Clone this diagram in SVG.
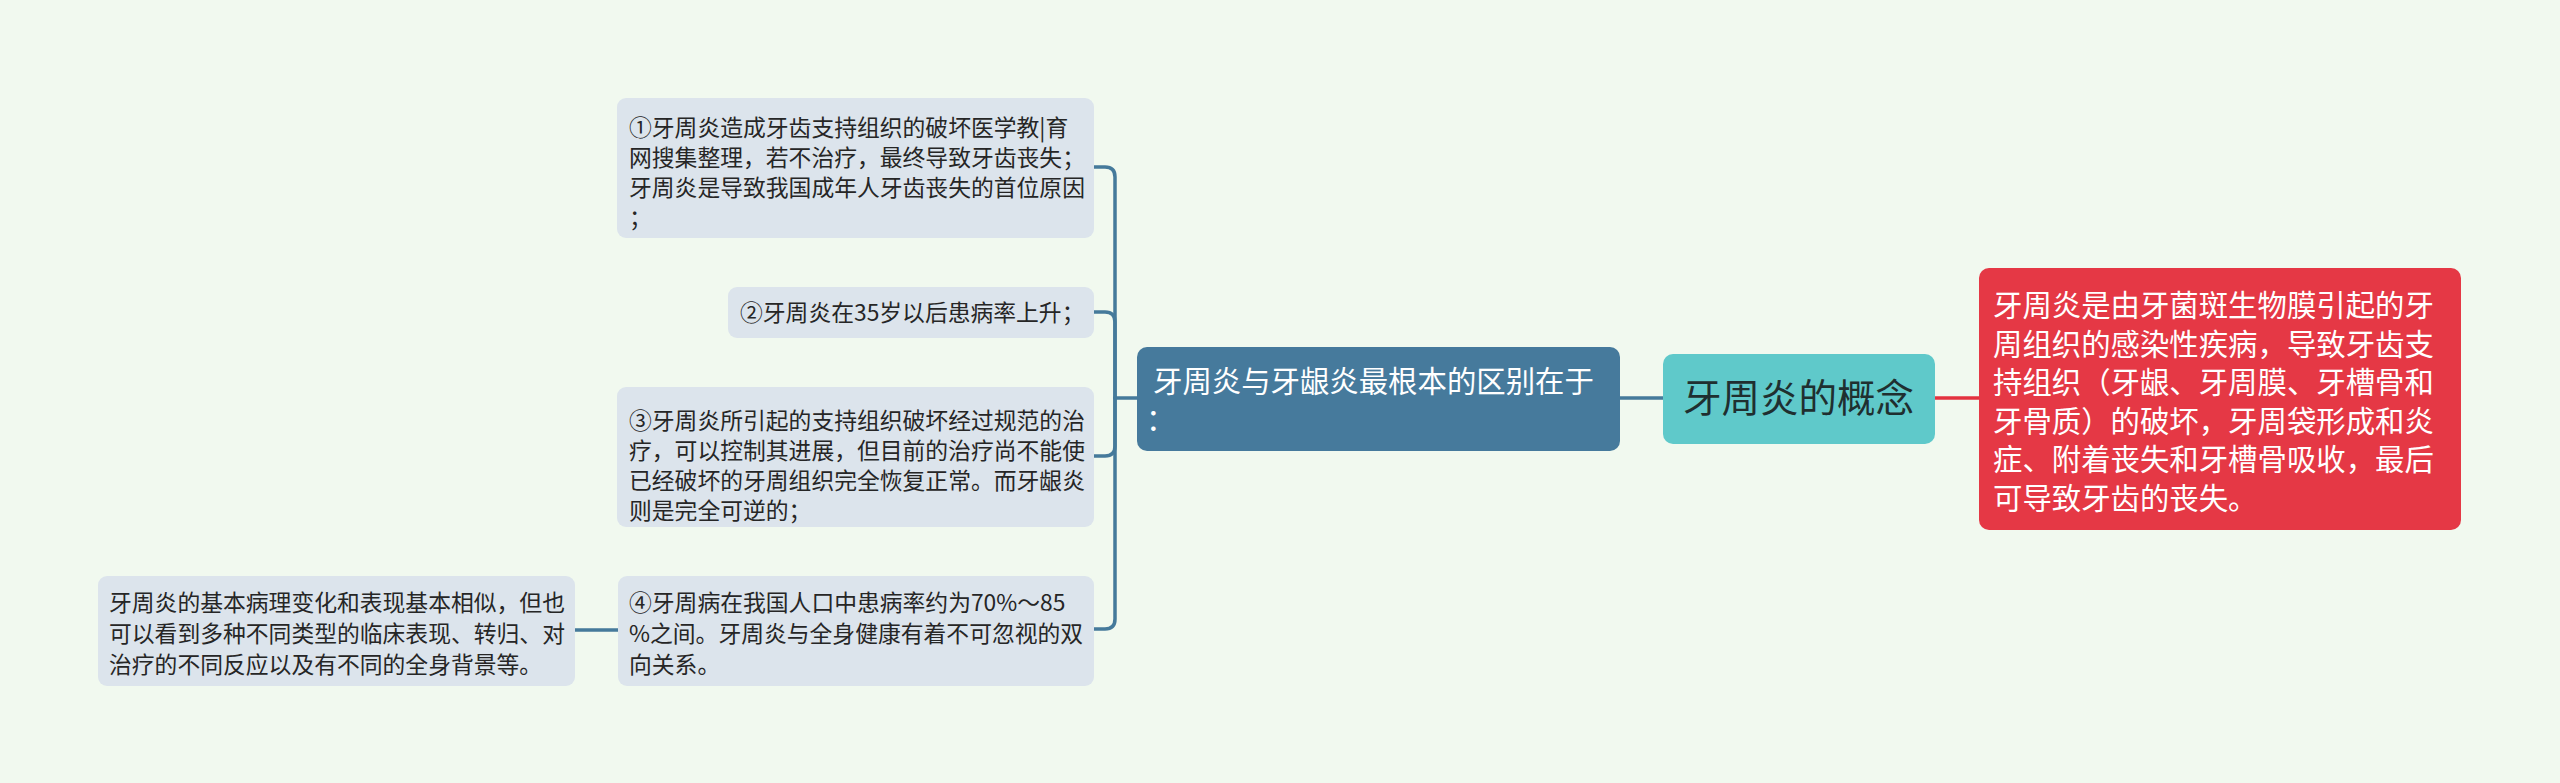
<svg xmlns="http://www.w3.org/2000/svg" width="2560" height="783" viewBox="0 0 2560 783">
<style>
text{font-family:"Noto Sans CJK SC","Noto Sans",sans-serif;}
.sub{fill:#dce4ec;}
.st{font-size:22.8px;fill:#262626;}
.mt{font-size:29.4px;fill:#ffffff;}
.ct{font-size:38.5px;fill:#1f2f30;}
.rt{font-size:29.4px;fill:#ffffff;}
.conn{fill:none;stroke:#457a9b;stroke-width:3.5;stroke-linecap:round;stroke-linejoin:round;}
.connr{fill:none;stroke:#e3323f;stroke-width:3.5;}
</style>
<rect width="2560" height="783" fill="#f1f9ef"/>
<g id="connectors">
<path class="conn" d="M1137,398 H1115"/>
<path class="conn" d="M1115,398 V177 Q1115,167 1105,167 H1094"/>
<path class="conn" d="M1115,398 V322 Q1115,312 1105,312 H1094"/>
<path class="conn" d="M1115,398 V446 Q1115,456 1105,456 H1094"/>
<path class="conn" d="M1115,398 V619 Q1115,629 1105,629 H1094"/>
<path class="conn" d="M1620,398 H1663"/>
<path class="connr" d="M1935,398 H1980"/>
<path class="conn" d="M575,630 H618"/>
</g>
<g id="node-center">
<rect x="1663" y="354" width="272" height="90" rx="10" fill="#5fc9ca"/>
<text class="ct" x="1683" y="412">牙周炎的概念</text>
</g>
<g id="node-def">
<rect x="1979" y="268" width="482" height="262" rx="10" fill="#e53845"/>
<text class="rt" x="1993" y="316">牙周炎是由牙菌斑生物膜引起的牙</text>
<text class="rt" x="1993" y="354.6">周组织的感染性疾病，导致牙齿支</text>
<text class="rt" x="1993" y="393.2">持组织（牙龈、牙周膜、牙槽骨和</text>
<text class="rt" x="1993" y="431.8">牙骨质）的破坏，牙周袋形成和炎</text>
<text class="rt" x="1993" y="470.4">症、附着丧失和牙槽骨吸收，最后</text>
<text class="rt" x="1993" y="509">可导致牙齿的丧失。</text>
</g>
<g id="node-main">
<rect x="1137" y="347" width="483" height="104" rx="10" fill="#467a9c"/>
<text class="mt" x="1153" y="392">牙周炎与牙龈炎最根本的区别在于</text>
<text class="mt" x="1146" y="430">：</text>
</g>
<g id="node-1">
<rect class="sub" x="617" y="98" width="477" height="140" rx="9"/>
<text class="st" x="629" y="136">①牙周炎造成牙齿支持组织的破坏医学教|育</text>
<text class="st" x="629" y="166">网搜集整理，若不治疗，最终导致牙齿丧失；</text>
<text class="st" x="629" y="196">牙周炎是导致我国成年人牙齿丧失的首位原因</text>
<text class="st" x="629" y="226">；</text>
</g>
<g id="node-2">
<rect class="sub" x="728" y="287" width="366" height="51" rx="9"/>
<text class="st" x="740" y="321">②牙周炎在35岁以后患病率上升；</text>
</g>
<g id="node-3">
<rect class="sub" x="617" y="387" width="477" height="140" rx="9"/>
<text class="st" x="629" y="429">③牙周炎所引起的支持组织破坏经过规范的治</text>
<text class="st" x="629" y="459">疗，可以控制其进展，但目前的治疗尚不能使</text>
<text class="st" x="629" y="489">已经破坏的牙周组织完全恢复正常。而牙龈炎</text>
<text class="st" x="629" y="519">则是完全可逆的；</text>
</g>
<g id="node-4">
<rect class="sub" x="618" y="576" width="476" height="110" rx="9"/>
<text class="st" x="629" y="611">④牙周病在我国人口中患病率约为70%～85</text>
<text class="st" x="629" y="642">%之间。牙周炎与全身健康有着不可忽视的双</text>
<text class="st" x="629" y="673">向关系。</text>
</g>
<g id="node-5">
<rect class="sub" x="98" y="576" width="477" height="110" rx="9"/>
<text class="st" x="109" y="611">牙周炎的基本病理变化和表现基本相似，但也</text>
<text class="st" x="109" y="642">可以看到多种不同类型的临床表现、转归、对</text>
<text class="st" x="109" y="673">治疗的不同反应以及有不同的全身背景等。</text>
</g>
</svg>
